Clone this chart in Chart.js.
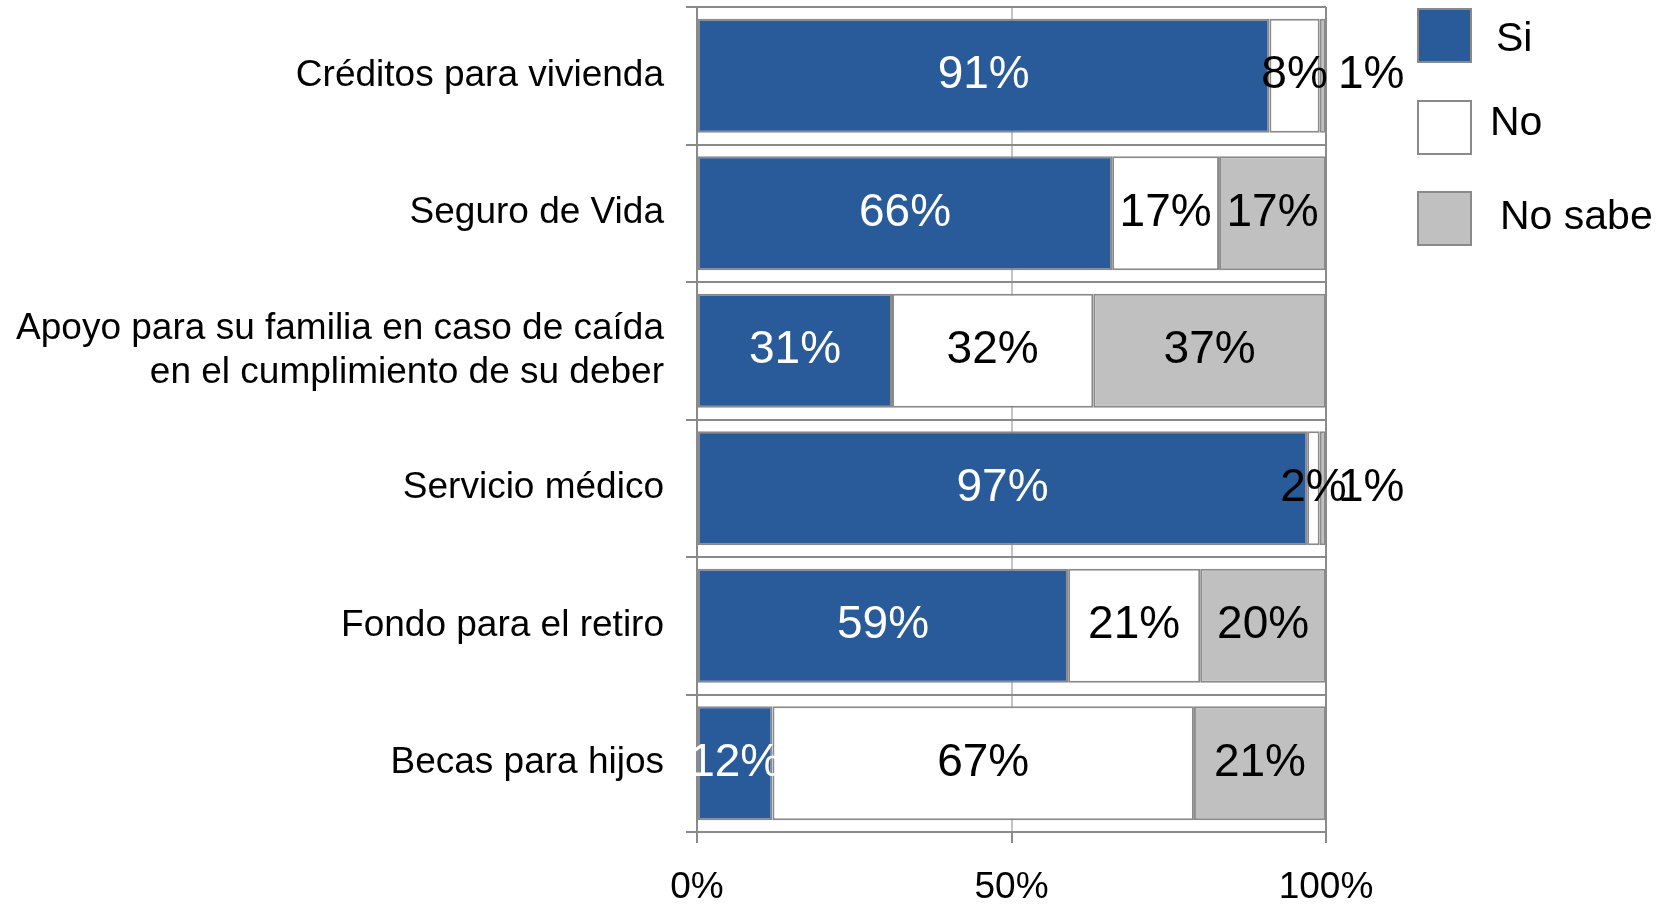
<!DOCTYPE html>
<html>
<head>
<meta charset="utf-8">
<script src="https://cdn.jsdelivr.net/npm/chart.js@4.4.1/dist/chart.umd.min.js"></script>
<style>
  html, body { margin: 0; padding: 0; background: #fff; }
  #wrap { width: 1674px; height: 905px; }
</style>
</head>
<body>
<div id="wrap"><canvas id="c"></canvas></div>
<script>
'use strict'

var categorias = [
  'Créditos para vivienda',
  'Seguro de Vida',
  ['Apoyo para su familia en caso de caída', 'en el cumplimiento de su deber'],
  'Servicio médico',
  'Fondo para el retiro',
  'Becas para hijos'
];
var si      = [91, 66, 31, 97, 59, 12];
var no      = [8, 17, 32, 2, 21, 67];
var noSabe  = [1, 17, 37, 1, 20, 21];
var ticksX  = [0, 50, 100];

const FONT = '"Liberation Sans", Arial, sans-serif';
const LINE = '#8a8a8a';

// etiquetas de porcentaje sobre cada segmento
const etiquetas = {
  id: 'etiquetas',
  afterDatasetsDraw(chart) {
    const ctx = chart.ctx;
    ctx.save();
    ctx.font = '46px ' + FONT;
    ctx.textBaseline = 'middle';
    chart.data.datasets.forEach((ds, i) => {
      chart.getDatasetMeta(i).data.forEach((bar, j) => {
        const v = ds.data[j];
        ctx.fillStyle = ds.labelColor;
        if (v <= 1) {
          ctx.textAlign = 'left';
          ctx.fillText(v + '%', Math.max(bar.x, bar.base) + 12, bar.y);
        } else {
          ctx.textAlign = 'center';
          ctx.fillText(v + '%', (bar.x + bar.base) / 2, bar.y);
        }
      });
    });
    ctx.restore();
  }
};

// leyenda a la derecha
const leyenda = {
  id: 'leyenda',
  afterDraw(chart) {
    const ctx = chart.ctx;
    const cajas = [9, 101, 192];
    const textoX = [1496, 1490, 1500];
    const textoY = [40, 124, 218];
    ctx.save();
    ctx.font = '41px ' + FONT;
    ctx.textBaseline = 'middle';
    ctx.textAlign = 'left';
    chart.data.datasets.forEach((ds, i) => {
      ctx.fillStyle = ds.backgroundColor;
      ctx.fillRect(1418, cajas[i], 53, 53);
      ctx.strokeStyle = LINE;
      ctx.lineWidth = 2;
      ctx.strokeRect(1418, cajas[i], 53, 53);
      ctx.fillStyle = '#000';
      ctx.fillText(ds.label, textoX[i], textoY[i]);
    });
    ctx.restore();
  }
};

var ctx = document.getElementById('c');
new Chart(ctx, {
  type: 'bar',
  data: {
    labels: categorias,
    datasets: [
      { label: 'Si', data: si, backgroundColor: '#295a99', labelColor: '#fff' },
      { label: 'No', data: no, backgroundColor: '#ffffff', labelColor: '#000' },
      { label: 'No sabe', data: noSabe, backgroundColor: '#c0c0c0', labelColor: '#000' }
    ].map(d => Object.assign(d, {
      borderColor: LINE,
      borderWidth: 2,
      borderSkipped: false,
      barPercentage: 0.83,
      categoryPercentage: 1
    }))
  },
  options: {
    indexAxis: 'y',
    responsive: true,
    maintainAspectRatio: false,
    animation: false,
    layout: { padding: { top: 7, right: 348, left: 0, bottom: 0 } },
    plugins: {
      legend: { display: false },
      tooltip: { enabled: false }
    },
    scales: {
      x: {
        stacked: true,
        min: 0,
        max: 100,
        afterBuildTicks: s => { s.ticks = ticksX.map(v => ({ value: v })); },
        afterFit: s => { s.height = 73; },
        grid: {
          color: c => c.tick && c.tick.value == 50 ? '#c4c4c4' : LINE,
          lineWidth: 2,
          tickLength: 11,
          tickColor: LINE
        },
        border: { color: LINE, width: 2 },
        ticks: {
          callback: v => v + '%',
          color: '#000',
          padding: 23,
          maxRotation: 0,
          font: { family: FONT, size: 37 }
        }
      },
      y: {
        stacked: true,
        afterFit: s => { s.width = 697; s.paddingTop = 0; s.paddingBottom = 0; },
        grid: {
          offset: true,
          color: LINE,
          lineWidth: 2,
          tickLength: 11,
          tickColor: LINE
        },
        border: { color: LINE, width: 2 },
        ticks: {
          color: '#000',
          padding: 22,
          font: { family: FONT, size: 37, lineHeight: 1.2 }
        }
      }
    }
  },
  plugins: [etiquetas, leyenda]
});
</script>
</body>
</html>
